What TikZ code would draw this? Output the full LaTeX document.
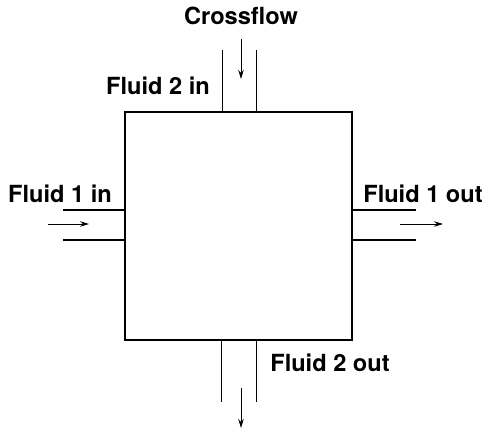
\documentclass[tikz,border=0pt]{standalone}
\usepackage{fontspec}
\setmainfont{TeX Gyre Heros}
\usetikzlibrary{arrows.meta}
\tikzset{
  label/.style={font=\fontsize{23.6}{28}\selectfont\bfseries, inner sep=0pt},
  pipe/.style={line width=1.6pt},
  thinpipe/.style={line width=0.9pt},
  flow/.style={line width=0.9pt, -{Stealth[length=9pt,width=5.5pt]}}
}
\begin{document}
\begin{tikzpicture}[x=1pt, y=-1pt]
    \useasboundingbox (0,0) rectangle (489,430);

    % Exchanger body
    \node[draw, line width=2pt, minimum width=227pt, minimum height=227pt, inner sep=0pt] (core) at (238.5,226) {};

    % Fluid 2 in (top)
    \coordinate (tl) at (222,50);
    \coordinate (tr) at (256,50);
    \draw[thinpipe] (tl) -- (tl |- core.north);
    \draw[thinpipe] (tr) -- (tr |- core.north);
    \coordinate (ta) at (241,39);
    \coordinate (tb) at (241,79);
    \draw[flow] (ta) -- (tb);
    \node[label] (cross) at (241,16) {Crossflow};
    \node[label] (f2in) at (158,86) {Fluid 2 in};

    % Fluid 1 in (left)
    \coordinate (lu) at (63,210);
    \coordinate (ld) at (63,240);
    \draw[pipe] (lu) -- (lu -| core.west);
    \draw[pipe] (ld) -- (ld -| core.west);
    \coordinate (la) at (48,224);
    \coordinate (lb) at (89,224);
    \draw[flow] (la) -- (lb);
    \node[label] (f1in) at (60,194) {Fluid 1 in};

    % Fluid 1 out (right)
    \coordinate (ru) at (416,210);
    \coordinate (rd) at (416,240);
    \draw[pipe] (ru -| core.east) -- (ru);
    \draw[pipe] (rd -| core.east) -- (rd);
    \coordinate (ra) at (400,224);
    \coordinate (rb) at (443,224);
    \draw[flow] (ra) -- (rb);
    \node[label] (f1out) at (423,194) {Fluid 1 out};

    % Fluid 2 out (bottom)
    \coordinate (bl) at (221,402);
    \coordinate (br) at (256,402);
    \draw[thinpipe] (bl |- core.south) -- (bl);
    \draw[thinpipe] (br |- core.south) -- (br);
    \coordinate (ba) at (241,388);
    \coordinate (bb) at (241,428);
    \draw[flow] (ba) -- (bb);
    \node[label] (f2out) at (330,363) {Fluid 2 out};
\end{tikzpicture}
\end{document}
